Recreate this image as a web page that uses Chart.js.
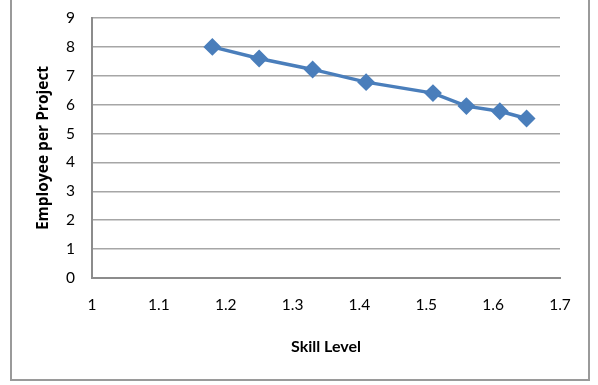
<!DOCTYPE html>
<html>
<head>
<meta charset="utf-8">
<script src="https://cdn.jsdelivr.net/npm/chart.js@4/dist/chart.umd.min.js"></script>
<style>
  html, body { margin: 0; padding: 0; background: #ffffff; }
  #wrap { position: relative; width: 598px; height: 385px; }
</style>
</head>
<body>
<div id="wrap"><canvas id="chart" width="598" height="385"></canvas></div>
<script>
// Skill level vs. employees needed per project
const skillLevels = [1.18, 1.25, 1.33, 1.41, 1.51, 1.56, 1.61, 1.65];
const employeesPerProject = [8.0, 7.6, 7.22, 6.78, 6.4, 5.95, 5.77, 5.52];
const xTickLabels = ['1', '1.1', '1.2', '1.3', '1.4', '1.5', '1.6', '1.7'];
const yTickLabels = ['0', '1', '2', '3', '4', '5', '6', '7', '8', '9'];

const points = skillLevels.map((x, i) => ({ x: x, y: employeesPerProject[i] }));

// White background and the outer frame around the whole chart
const framePlugin = {
  id: 'frame',
  beforeDraw(chart) {
    const ctx = chart.ctx;
    ctx.save();
    ctx.fillStyle = '#ffffff';
    ctx.fillRect(0, 0, chart.width, chart.height);
    ctx.strokeStyle = '#9a9a9a';
    ctx.lineWidth = 2;
    ctx.strokeRect(11, -5, 578, 385);
    ctx.restore();
  }
};

const fontFamily = 'Lato, "Liberation Sans", sans-serif';
const tickFont = { family: fontFamily, size: 15.5 };
const xTitleFont = { family: fontFamily, size: 16, weight: 'bold' };
const yTitleFont = { family: '"Open Sans", Lato, sans-serif', size: 15.5, weight: 'bold' };

new Chart(document.getElementById('chart'), {
  type: 'scatter',
  data: {
    datasets: [{
      data: points,
      showLine: true,
      borderColor: '#4a7ebb',
      backgroundColor: '#4a7ebb',
      borderWidth: 3.5,
      pointStyle: 'rectRot',
      pointRadius: 6.5,
      pointHoverRadius: 6.5,
      tension: 0
    }]
  },
  plugins: [framePlugin],
  options: {
    responsive: false,
    animation: false,
    events: [],
    layout: { padding: { left: 0, right: 38, top: 18, bottom: 0 } },
    plugins: {
      legend: { display: false },
      tooltip: { enabled: false }
    },
    scales: {
      x: {
        type: 'linear',
        min: 1,
        max: 1.7,
        afterBuildTicks(axis) {
          axis.ticks = xTickLabels.map(v => ({ value: parseFloat(v) }));
        },
        afterFit(axis) { axis.height = 107; },
        grid: { display: false, drawTicks: false },
        border: { display: true, color: '#8c8c8c', width: 2 },
        ticks: {
          color: '#000000',
          font: tickFont,
          padding: 18,
          maxRotation: 0,
          callback: (v, i) => xTickLabels[i]
        },
        title: {
          display: true,
          text: 'Skill Level',
          color: '#000000',
          font: xTitleFont,
          padding: { top: 0, bottom: 29 }
        }
      },
      y: {
        type: 'linear',
        min: 0,
        max: 9,
        afterBuildTicks(axis) {
          axis.ticks = yTickLabels.map(v => ({ value: parseFloat(v) }));
        },
        afterFit(axis) {
          axis.width = 92;
          axis.paddingTop = 0;
          axis.paddingBottom = 0;
        },
        grid: { color: '#a6a6a6', lineWidth: 1.5, drawTicks: false },
        border: { display: true, color: '#8c8c8c', width: 2 },
        ticks: {
          color: '#000000',
          font: tickFont,
          padding: 17,
          callback: (v, i) => yTickLabels[i]
        },
        title: {
          display: true,
          text: 'Employee per Project',
          color: '#000000',
          font: yTitleFont,
          padding: { top: 34, bottom: 0 }
        }
      }
    }
  }
});
</script>
</body>
</html>
